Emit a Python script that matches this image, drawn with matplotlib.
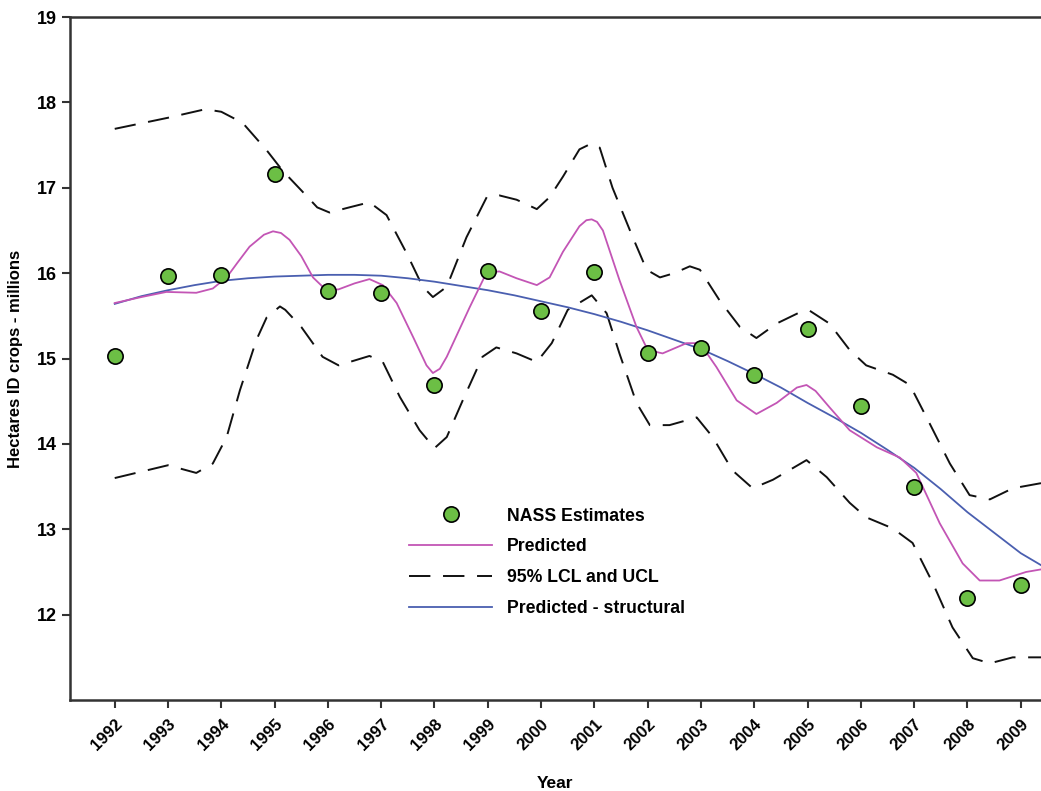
import matplotlib
matplotlib.use("Agg")
import matplotlib.pyplot as plt

years = list(range(1992, 2010))
nass = [15.03, 15.97, 15.98, 17.16, 15.79, 15.77, 14.69, 16.02, 15.56, 16.01,
        15.06, 15.12, 14.81, 15.34, 14.44, 13.49, 12.20, 12.35]

# Predicted (smooth model)
pred_t = [1992.0, 1992.5, 1992.97, 1993.53, 1993.84, 1994.1, 1994.3, 1994.53, 1994.8, 1994.97,
          1995.12, 1995.28, 1995.5, 1995.72, 1995.97, 1996.2, 1996.5, 1996.78, 1997.03, 1997.29,
          1997.6, 1997.85, 1997.97, 1998.1, 1998.23, 1998.66, 1998.98, 1999.22, 1999.54, 1999.92,
          2000.16, 2000.41, 2000.72, 2000.85, 2000.95, 2001.05, 2001.16, 2001.47, 2001.79, 2002.0,
          2002.28, 2002.73, 2002.98, 2003.29, 2003.67, 2004.04, 2004.42, 2004.8, 2004.98, 2005.15,
          2005.41, 2005.79, 2006.3, 2006.73, 2007.04, 2007.48, 2007.91, 2008.23, 2008.6, 2009.1,
          2009.38]
pred_v = [15.65, 15.72, 15.78, 15.77, 15.82, 15.95, 16.12, 16.31, 16.45, 16.49,
          16.47, 16.39, 16.20, 15.95, 15.80, 15.81, 15.88, 15.93, 15.86, 15.65,
          15.25, 14.92, 14.83, 14.88, 15.02, 15.60, 16.01, 16.02, 15.94, 15.86,
          15.95, 16.25, 16.55, 16.62, 16.63, 16.60, 16.50, 15.92, 15.37, 15.10,
          15.06, 15.18, 15.18, 14.90, 14.51, 14.35, 14.48, 14.66, 14.69, 14.62,
          14.43, 14.16, 13.96, 13.84, 13.66, 13.07, 12.60, 12.40, 12.40, 12.50,
          12.53]

# 95% upper confidence limit
ucl_t = [1992.0, 1993.0, 1993.7, 1994.0, 1994.4, 1994.85, 1995.15, 1995.5, 1995.8, 1996.03,
         1996.4, 1996.78, 1997.1, 1997.48, 1997.78, 1997.97, 1998.23, 1998.6, 1998.98, 1999.22,
         1999.54, 1999.92, 2000.16, 2000.41, 2000.72, 2000.95, 2001.1, 2001.34, 2001.72, 2001.98,
         2002.23, 2002.5, 2002.79, 2002.98, 2003.35, 2003.73, 2004.04, 2004.42, 2004.85, 2005.04,
         2005.41, 2005.79, 2006.1, 2006.6, 2006.92, 2007.29, 2007.67, 2008.04, 2008.42, 2008.85,
         2009.38]
ucl_v = [17.69, 17.82, 17.92, 17.89, 17.76, 17.44, 17.20, 16.97, 16.77, 16.71,
         16.77, 16.83, 16.68, 16.23, 15.84, 15.72, 15.84, 16.42, 16.89, 16.91,
         16.86, 16.75, 16.89, 17.13, 17.45, 17.52, 17.47, 17.00, 16.42, 16.04,
         15.95, 16.00, 16.08, 16.04, 15.68, 15.37, 15.24, 15.41, 15.54, 15.56,
         15.41, 15.10, 14.92, 14.81, 14.69, 14.24, 13.77, 13.40, 13.35, 13.48,
         13.54]

# 95% lower confidence limit
lcl_t = [1992.0, 1993.0, 1993.53, 1993.84, 1994.1, 1994.35, 1994.66, 1994.85, 1995.1, 1995.2,
         1995.5, 1995.9, 1996.2, 1996.78, 1997.03, 1997.35, 1997.72, 1998.0, 1998.23, 1998.53,
         1998.9, 1999.16, 1999.54, 1999.92, 2000.2, 2000.5, 2000.95, 2001.23, 2001.47, 2001.79,
         2002.04, 2002.41, 2002.92, 2003.22, 2003.59, 2003.97, 2004.35, 2004.98, 2005.36, 2005.79,
         2006.1, 2006.6, 2006.97, 2007.35, 2007.72, 2008.1, 2008.42, 2008.85, 2009.38]
lcl_v = [13.60, 13.75, 13.66, 13.77, 14.08, 14.63, 15.22, 15.48, 15.61, 15.57,
         15.37, 15.02, 14.92, 15.03, 14.96, 14.55, 14.16, 13.95, 14.08, 14.51,
         15.02, 15.13, 15.06, 14.96, 15.18, 15.57, 15.74, 15.53, 15.06, 14.48,
         14.22, 14.22, 14.31, 14.08, 13.69, 13.48, 13.58, 13.81, 13.61, 13.31,
         13.14, 13.01, 12.84, 12.37, 11.85, 11.49, 11.43, 11.50, 11.50]

# Structural prediction
str_t = [1992, 1992.5, 1993, 1993.5, 1994, 1994.5, 1995, 1995.5, 1996, 1996.5,
         1997, 1997.5, 1998, 1998.5, 1999, 1999.5, 2000, 2000.5, 2001, 2001.5,
         2002, 2002.5, 2003, 2003.5, 2004, 2004.5, 2005, 2005.5, 2006, 2006.5,
         2007, 2007.5, 2008, 2008.5, 2009, 2009.38]
str_v = [15.64, 15.73, 15.80, 15.86, 15.91, 15.94, 15.96, 15.97, 15.98, 15.98,
         15.97, 15.94, 15.90, 15.85, 15.80, 15.74, 15.67, 15.60, 15.52, 15.43,
         15.33, 15.22, 15.11, 14.97, 14.82, 14.66, 14.48, 14.31, 14.13, 13.93,
         13.72, 13.47, 13.20, 12.96, 12.72, 12.58]

plt.rcParams['font.family'] = ['Liberation Sans', 'DejaVu Sans']
fig = plt.figure(figsize=(10.41, 7.91), dpi=100)
ax = fig.add_axes([0.0672, 0.115, 0.9328, 0.8635])

dash = (0, (11, 6.5))
ax.plot(ucl_t, ucl_v, color='#111111', lw=1.4, linestyle=dash, label='95% LCL and UCL', zorder=2)
ax.plot(lcl_t, lcl_v, color='#111111', lw=1.4, linestyle=dash, zorder=2)
ax.plot(str_t, str_v, color='#4a5fb0', lw=1.3, label='Predicted - structural', zorder=3)
ax.plot(pred_t, pred_v, color='#c355b5', lw=1.3, label='Predicted', zorder=3)
ax.plot(years, nass, linestyle='none', marker='o', markersize=11,
        markerfacecolor='#6cbf45', markeredgecolor='black', markeredgewidth=1.2,
        label='NASS Estimates', zorder=4)

ax.set_xlim(1991.16, 2009.38)
ax.set_ylim(11, 19)
ax.set_xticks(years)
ax.set_xticklabels([str(y) for y in years], rotation=45, ha='right', rotation_mode='anchor',
                   fontsize=12, fontweight='bold')
ax.set_yticks([12, 13, 14, 15, 16, 17, 18, 19])
ax.set_yticklabels(['12', '13', '14', '15', '16', '17', '18', '19'], fontsize=13, fontweight='bold')
ax.tick_params(direction='out', length=6, width=1.5, color='#333333')
ax.tick_params(axis='x', pad=6)

for s in ['left', 'bottom', 'top']:
    ax.spines[s].set_color('#333333')
    ax.spines[s].set_linewidth(1.8)
ax.spines['right'].set_visible(False)

ax.set_xlabel('Year', fontsize=12.5, fontweight='bold', labelpad=16)
ax.set_ylabel('Hectares ID crops - millions', fontsize=12, fontweight='bold', labelpad=10)

h, l = ax.get_legend_handles_labels()
order = ['NASS Estimates', 'Predicted', '95% LCL and UCL', 'Predicted - structural']
hs = [h[l.index(o)] for o in order]
leg = ax.legend(hs, order, loc='upper left', bbox_to_anchor=(0.333, 0.305), frameon=False,
                prop={'weight': 'bold', 'size': 12.7}, handlelength=4.7, handletextpad=0.85,
                labelspacing=0.78, numpoints=1)

fig.savefig('out.png', dpi=100)
